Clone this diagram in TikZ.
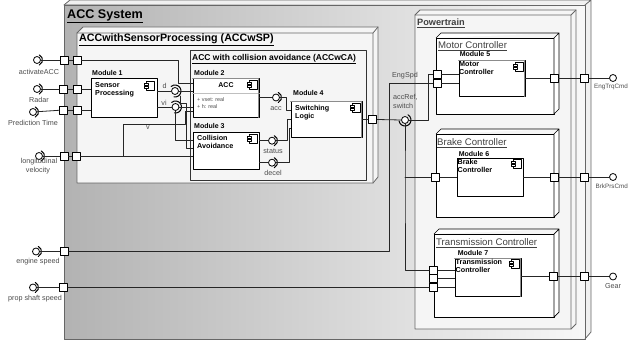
\documentclass[tikz,border=0pt]{standalone}
\usepackage{fontspec}
\setmainfont{Liberation Sans}
\begin{document}
\begin{tikzpicture}[x=1pt, y=-1pt, every node/.style={font=\fontsize{7.2}{8.8}\selectfont}, line cap=round, line join=round]
  \tikzset{
    shell/.style={draw=black!60, line width=.8pt},
    rim/.style={draw=black!60, fill=black!4, line width=.8pt},
    hw/.style={draw=black, fill=white, line width=.7pt},
    hwtitle/.style={font=\fontsize{9.6}{11}\selectfont, text=black!75, anchor=west, inner sep=0pt},
    modbox/.style={draw=black, fill=white, line width=.8pt, inner sep=0pt},
    port/.style={draw=black, fill=white, line width=.8pt, minimum size=8pt, inner sep=0pt},
    ball/.style={draw=black, fill=white, circle, line width=.8pt, minimum size=7pt, inner sep=0pt},
    socket/.style={draw=black, line width=1pt},
    wire/.style={draw=black!85, line width=.8pt},
    tag/.style={text=black!70, inner sep=0pt},
    edgetag/.style={tag, font=\fontsize{6.3}{8}\selectfont, anchor=east},
    modtag/.style={font=\fontsize{7}{8}\selectfont\bfseries, inner sep=0pt},
    modtext/.style={font=\fontsize{7.2}{8.4}\selectfont\bfseries, align=left, anchor=north west, inner sep=0pt}
  }
  \useasboundingbox (0,0) rectangle (629,347);

  % ACC System and the two packages inside it
  \fill[black!6] (64,5)--(70,0)--(591,0)--(591,332)--(585,339)--(585,5)--cycle;
  \draw[shell, left color=black!30, right color=black!3] (64,5) rectangle (585,339);
  \draw[shell] (64,5)--(70,0)--(591,0)--(591,332)--(585,339) (585,5)--(591,0);
  \node[font=\fontsize{12.6}{14}\selectfont\bfseries, anchor=west, inner sep=0pt] (accsys) at (67,16) {\underline{ACC System}};

  \draw[rim] (77,33)--(83,27)--(378,27)--(378,177)--(373,183)--(77,183)--cycle;
  \draw[shell] (77,33)--(373,33)--(373,183) (373,33)--(378,27);
  \node[font=\fontsize{10.7}{12}\selectfont\bfseries, anchor=west, inner sep=0pt] (accwsp) at (79,40) {\underline{ACCwithSensorProcessing (ACCwSP)}};

  \draw[rim, draw=black!80] (190,50) rectangle (366,180);
  \node[font=\fontsize{8.5}{10}\selectfont\bfseries, anchor=west, inner sep=0pt] (accwca) at (192,59) {\underline{ACC with collision avoidance (ACCwCA)}};

  \draw[rim] (415,15)--(420,10)--(576,10)--(576,324)--(571,329)--(415,329)--cycle;
  \draw[shell] (415,15)--(571,15)--(571,329) (571,15)--(576,10);
  \node[font=\fontsize{9.2}{10}\selectfont\bfseries, text=black!75, anchor=west, inner sep=0pt] (powertrain) at (417,23) {\underline{Powertrain}};

  % three hardware boxes of the powertrain
  \foreach \l/\t/\b in {436/38/114,436/134/217,434/234/317} {
    \draw[hw] (\l,\t) rectangle (554,\b);
    \draw[hw] (\l,\t)--(\l+5,\t-5)--(559,\t-5)--(559,\b-5)--(554,\b)--(554,\t)--(559,\t-5);
  }
  \node[hwtitle] (motorhw) at (438,46) {\underline{Motor Controller}};
  \node[hwtitle] (brakehw) at (437,143) {\underline{Brake Controller}};
  \node[hwtitle] (transhw) at (436,243) {\underline{Transmission Controller}};

  % modules
  \node[modbox, minimum width=66pt, minimum height=39pt] (sensor) at (124,97.5) {};
  \node[modbox, minimum width=66pt, minimum height=39pt] (acc) at (226,97.5) {};
  \node[modbox, minimum width=66pt, minimum height=37pt] (collision) at (226,150.5) {};
  \node[modbox, minimum width=71pt, minimum height=36pt] (switching) at (326.5,119) {};
  \node[modbox, minimum width=66pt, minimum height=36pt] (motor) at (492,78) {};
  \node[modbox, minimum width=66pt, minimum height=38pt] (brake) at (490,177) {};
  \node[modbox, minimum width=66pt, minimum height=38pt] (trans) at (488,277) {};
  \draw[black!25, line width=.8pt] (acc.west |- 0,93) -- (acc.east |- 0,93);
  % grey inner edge on some of the modules
  \foreach \m in {acc,switching,motor,trans} {
    \draw[black!45, line width=.8pt] ([yshift=-1pt]\m.north west) -- ([xshift=-1pt,yshift=-1pt]\m.north east) -- ([xshift=-1pt]\m.south east);
  }

  \node[modtag, anchor=west] (mod1) at (92,73) {Module 1};
  \node[modtag, anchor=west] (mod2) at (194,73) {Module 2};
  \node[modtag, anchor=west] (mod3) at (194,126) {Module 3};
  \node[modtag, anchor=west] (mod4) at (293,93) {Module 4};
  \node[modtag] (mod5) at (475,54) {Module 5};
  \node[modtag] (mod6) at (474,154) {Module 6};
  \node[modtag] (mod7) at (473,253) {Module 7};

  \node[modtext] (sensortext) at (95,82) {Sensor\\Processing};
  \node[modtag] (acctext) at (226,85) {ACC};
  \node[tag, font=\fontsize{5.4}{7}\selectfont, align=left, anchor=north west] (attrs) at (197,97) {+ vset: real\\+ h: real};
  \node[modtext] (colltext) at (197,135) {Collision\\Avoidance};
  \node[modtext] (swtext) at (295,105) {Switching\\Logic};
  \node[modtext] (motortext) at (459,61) {Motor\\Controller};
  \node[modtext] (braketext) at (457.5,159) {Brake\\Controller};
  \node[modtext] (transtext) at (455.5,259) {Transmission\\Controller};

  % component icons
  \foreach \x/\y in {154/81,257/80,257/134,360/103,523/62,521/159,519/259} {
    \draw[black, fill=white, line width=.7pt] (\x-8,\y) rectangle (\x,\y+9);
    \draw[black, fill=white, line width=.7pt] (\x-10,\y+2) rectangle (\x-6,\y+4) (\x-10,\y+5) rectangle (\x-6,\y+7);
  }

  % bend points
  \coordinate (acta) at (178,60);
  \coordinate (actb) at (178,83);
  \coordinate (vtop) at (123,124);
  \coordinate (vmid) at (185,124);
  \coordinate (vacc) at (185,111);
  \coordinate (dtop) at (180,96);
  \coordinate (dlow) at (180,103);
  \coordinate (dmid) at (186,103);
  \coordinate (dcol) at (186,148);
  \coordinate (vicol) at (175.5,140);
  \coordinate (engb) at (389,251.5);
  \coordinate (engt) at (389,83.5);
  \coordinate (swup) at (428,120);
  \coordinate (swdn) at (405,177);
  \coordinate (swlo) at (405,270);
  \coordinate (stv) at (287,140.7);
  \coordinate (dev) at (289,162.7);
  \coordinate (acv) at (286,97.5);

  % ports on the outer and inner edges
  \foreach \name/\x/\y in {pa/64.3/60,qa/77/60,pb/63.5/89,qb/77.3/89,pc/63.5/110,qc/77/110,pd/64/156,qd/76/156,
    pe/64.3/251.5,pf/63.5/287.5,swp/372.7/119.5,ma/437/74,mb/437/83.5,mc/554/78,md/584/78,
    ba/435.5/177,bc/554/177,bd/584/177,ta/433.7/270,tb/433.7/278.5,tc/433.7/287.5,te/553.5/276.5,tf/584/276.5} {
    \node[port] (\name) at (\x,\y) {};
  }
  % balls, with a socket arc where the line is required
  \foreach \name/\x/\y in {ia/37/60,ib/37/89,ic/33/112,id/39/156,ie/36/251.5,if/33/287.5,
    dball/175/91,vball/175.5/107,accball/276/97.5,stball/272/140.7,deball/272/162.7,
    swball/405/120,oa/613/78,ob/613/177,oc/613/276.5} {
    \node[ball] (\name) at (\x,\y) {};
  }
  \foreach \b in {ia,ib,ic,id,ie,if,accball,stball,deball} {
    \draw[socket] (\b.center) ++(65:5.5) arc (65:-65:5.5);
  }
  \draw[socket] (dball.center) ++(100:6) arc (100:-130:6);
  \draw[socket] (vball.center) ++(100:6) arc (100:-130:6);
  \draw[socket] (swball.center) ++(170:6) arc (170:-60:6);

  \foreach \a/\b in {ia/pa,pa/qa,ib/pb,pb/qb,ic/pc,pc/qc,id/pd,pd/qd,ie/pe,if/pf,mc/md,md/oa,bc/bd,bd/ob,te/tf,tf/oc} {
    \draw[wire] (\a) -- (\b);
  }
  \draw[wire] (qa.east) -- (acta) -- (actb) -- (actb -| acc.west);
  \draw[wire] (qb.east) -- (qb.east -| sensor.west);
  \draw[wire] (qc.east) -- (qc.east -| sensor.west);
  \draw[wire] (qd.east) -- (qd.east -| collision.west);
  \draw[wire] (vtop |- qd.east) -- (vtop) -- (vmid) -- (vacc) -- (vacc -| acc.west);
  \draw[wire] (dball.west -| sensor.east) -- (dball.west);
  \draw[wire] (vball.west -| sensor.east) -- (vball.west);
  \draw[wire] (dball.east) -- (dball.east -| acc.west);
  \draw[wire] (vball.east) -- (vball.east -| acc.west);
  \draw[wire] (dtop) -- (dlow) -- (dmid) -- (dcol) -- (dcol -| collision.west);
  \draw[wire] (vball.south) -- (vicol) -- (vicol -| collision.west);
  \draw[wire] (accball.west -| acc.east) -- (accball.west);
  \draw[wire] (accball.east) -- (acv) |- (switching.west |- 0,110);
  \draw[wire] (stball.west -| collision.east) -- (stball.west);
  \draw[wire] (deball.west -| collision.east) -- (deball.west);
  \draw[wire] (stball.east) -- (stv) |- (switching.west |- 0,119);
  \draw[wire] (deball.east) -- (dev) |- (switching.west |- 0,128);
  \draw[wire] (switching.east |- swp) -- (swp.west);
  \draw[wire] (swp.east) -- (swball.west);
  \draw[wire] (swball.east) -- (swup) |- (ma.west);
  \draw[wire] (swball.south) -- (swdn) -- (swlo) -- (ta.west);
  \draw[wire] (swdn) -- (ba.west);
  \draw[wire] (pe.east) -- (engb) -- (engt) -- (mb.west);
  \draw[wire] (pf.east) -- (tc.west);
  \draw[wire] (ma.east) -- (ma.east -| motor.west);
  \draw[wire] (mb.east) -- (mb.east -| motor.west);
  \draw[wire] (ba.east) -- (brake.west);
  \draw[wire] (ta.east) -- (ta.east -| trans.west);
  \draw[wire] (tb.east) -- (tb.east -| trans.west);
  \draw[wire] (tc.east) -- (tc.east -| trans.west);
  \draw[wire] (motor.east |- mc) -- (mc.west);
  \draw[wire] (brake.east) -- (bc.west);
  \draw[wire] (trans.east |- te) -- (te.west);

  % interface names
  \node[tag] (activatelbl) at (39,72) {activateACC};
  \node[tag] (radarlbl) at (39,100) {Radar};
  \node[tag] (predlbl) at (33,123) {Prediction Time};
  \node[tag] (longlbl) at (39,162) {longitudinal};
  \node[tag] (vellbl) at (38,171) {velocity};
  \node[tag] (enginelbl) at (38,262) {engine speed};
  \node[tag] (proplbl) at (35,298.7) {prop shaft speed};
  \node[tag] (dlbl) at (164.5,86) {d};
  \node[tag] (vilbl) at (164,103) {vi};
  \node[tag] (vlbl) at (148,127.5) {v};
  \node[tag] (acclbl) at (276,108.5) {acc};
  \node[tag] (statuslbl) at (273,151.7) {status};
  \node[tag] (decellbl) at (273,173) {decel};
  \node[tag] (spdlbl) at (405,76) {EngSpd};
  \node[tag, align=left, anchor=north west] (reflbl) at (393,94) {accRef,\\switch};
  \node[edgetag] (trqlbl) at (628,87) {EngTrqCmd};
  \node[edgetag] (prslbl) at (628,186) {BrkPrsCmd};
  \node[tag] (gearlbl) at (613,286) {Gear};
\end{tikzpicture}
\end{document}
